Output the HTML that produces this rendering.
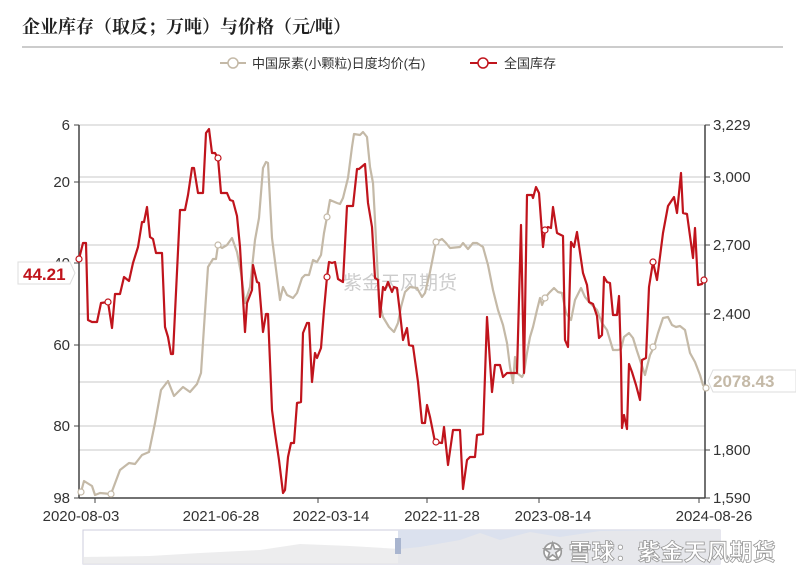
<!DOCTYPE html>
<html><head><meta charset="utf-8"><style>
body{margin:0;background:#fff;width:796px;height:575px;overflow:hidden;font-family:"Liberation Sans","Noto Sans CJK SC",sans-serif}
</style></head><body>
<svg width="796" height="575" xmlns="http://www.w3.org/2000/svg" font-family="Liberation Sans, Noto Sans CJK SC, sans-serif">
<text x="22" y="33" font-size="18" font-weight="bold" fill="#222" font-family="Liberation Serif, Noto Serif CJK SC, serif">企业库存（取反；万吨）与价格（元/吨）</text>
<line x1="22" y1="47" x2="783" y2="47" stroke="#999" stroke-width="1"/>
<line x1="220" y1="63" x2="246" y2="63" stroke="#c4b9a7" stroke-width="2"/><circle cx="233" cy="63" r="5" fill="#fff" stroke="#c4b9a7" stroke-width="1.5"/>
<text x="252" y="68" font-size="13" fill="#333">中国尿素(小颗粒)日度均价(右)</text>
<line x1="470" y1="63" x2="497" y2="63" stroke="#c0141c" stroke-width="2"/><circle cx="483" cy="63" r="5" fill="#fff" stroke="#c0141c" stroke-width="1.5"/>
<text x="504" y="68" font-size="13" fill="#333">全国库存</text>
<g stroke="#c8c8c8" stroke-width="1">
<line x1="79" y1="125" x2="705" y2="125"/><line x1="79" y1="177" x2="705" y2="177"/><line x1="79" y1="182" x2="705" y2="182"/><line x1="79" y1="245" x2="705" y2="245"/><line x1="79" y1="263" x2="705" y2="263"/><line x1="79" y1="314" x2="705" y2="314"/><line x1="79" y1="345" x2="705" y2="345"/><line x1="79" y1="382" x2="705" y2="382"/><line x1="79" y1="426" x2="705" y2="426"/><line x1="79" y1="450" x2="705" y2="450"/>
</g>
<text x="400" y="289" font-size="19" fill="#ccc" text-anchor="middle">紫金天风期货</text>
<g stroke="#444" stroke-width="1.5">
<line x1="79" y1="125" x2="79" y2="498"/><line x1="705" y1="125" x2="705" y2="498"/><line x1="79" y1="498" x2="705" y2="498"/>
</g>
<g stroke="#444" stroke-width="1">
<line x1="74" y1="125" x2="79" y2="125"/><line x1="74" y1="182" x2="79" y2="182"/><line x1="74" y1="263" x2="79" y2="263"/><line x1="74" y1="345" x2="79" y2="345"/><line x1="74" y1="426" x2="79" y2="426"/><line x1="74" y1="498" x2="79" y2="498"/>
<line x1="705" y1="125" x2="710" y2="125"/><line x1="705" y1="177" x2="710" y2="177"/><line x1="705" y1="245" x2="710" y2="245"/><line x1="705" y1="314" x2="710" y2="314"/><line x1="705" y1="450" x2="710" y2="450"/><line x1="705" y1="498" x2="710" y2="498"/>
<line x1="95" y1="498" x2="95" y2="503"/><line x1="318" y1="498" x2="318" y2="503"/><line x1="427" y1="498" x2="427" y2="503"/><line x1="539" y1="498" x2="539" y2="503"/><line x1="699" y1="498" x2="699" y2="503"/>
</g>
<g font-size="15" fill="#333" text-anchor="end">
<text x="70" y="130">6</text><text x="70" y="187">20</text><text x="70" y="268">40</text><text x="70" y="350">60</text><text x="70" y="431">80</text><text x="70" y="503">98</text>
</g>
<g font-size="15" fill="#333">
<text x="713" y="130">3,229</text><text x="713" y="182">3,000</text><text x="713" y="250">2,700</text><text x="713" y="319">2,400</text><text x="713" y="455">1,800</text><text x="713" y="503">1,590</text>
</g>
<g font-size="15" fill="#333" text-anchor="middle">
<text x="81" y="521">2020-08-03</text><text x="221" y="521">2021-06-28</text><text x="331" y="521">2022-03-14</text><text x="442" y="521">2022-11-28</text><text x="553" y="521">2023-08-14</text><text x="714" y="521">2024-08-26</text>
</g>
<polyline fill="none" stroke="#c4b9a7" stroke-width="2.2" stroke-linejoin="round" points="81,492 84,481 92,486 95,495 100,493 111,494 120,470 129,463 135,464 142,455 149,452 155,423 161,390 168,381 174,396 183,387 190,392 197,384 201,373 204,327 208,267 213,259 216,259 218,245 222,248 227,245 232,238 237,252 241,273 245,303 250,287 255,240 259,218 263,168 266,162 268,163 272,238 277,277 280,300 283,287 287,295 293,298 297,293 302,278 305,275 309,275 313,260 317,262 321,255 324,233 327,217 330,200 337,203 340,204 343,198 348,178 352,147 354,134 360,135 363,132 367,137 370,167 373,183 375,220 379,300 383,317 389,327 394,332 398,323 401,307 405,292 410,287 417,288 422,297 425,293 430,272 436,242 442,239 446,243 450,248 460,247 463,243 468,249 473,243 477,243 483,247 488,265 493,290 498,310 503,325 507,343 510,367 513,383 515,357 517,373 522,377 524,373 527,353 530,337 533,327 537,310 540,298 542,305 545,298 549,293 554,288 558,292 562,293 566,313 571,320 575,300 581,288 585,297 590,303 597,310 602,323 607,330 613,350 618,350 621,349 624,337 629,333 633,338 637,351 640,360 645,375 650,355 654,347 658,333 663,318 668,317 672,325 676,327 680,326 685,330 690,353 695,362 700,375 703,385 706,388"/>
<polyline fill="none" stroke="#c0141c" stroke-width="2.2" stroke-linejoin="round" points="79,259 83,243 86,243 88,320 92,322 97,322 101,303 108,302 112,328 115,294 120,294 124,277 129,281 133,263 138,247 142,222 144,222 147,207 150,237 153,239 156,253 162,253 165,327 168,337 171,354 173,354 180,210 185,210 188,195 192,168 194,168 198,193 203,193 206,133 209,129 212,153 215,153 218,158 221,193 227,193 230,200 233,201 237,216 240,247 245,332 247,303 252,290 253,265 257,282 259,283 263,332 266,314 268,314 272,410 275,433 279,460 283,493 285,490 288,457 291,443 294,443 297,403 301,402 303,333 307,323 309,323 312,382 315,353 317,358 321,348 324,310 327,277 329,262 332,263 335,262 338,279 343,282 347,206 353,206 357,169 359,169 365,164 368,203 372,227 375,278 378,280 380,317 383,287 385,290 388,282 392,292 394,287 397,288 400,313 403,340 407,328 409,345 413,346 418,382 422,423 425,423 427,405 430,417 435,442 442,443 444,427 448,465 453,430 460,430 463,489 467,460 470,457 475,457 477,435 483,434 487,317 492,392 495,365 500,365 503,377 507,373 517,373 521,225 524,373 527,195 532,195 533,198 536,187 539,193 543,247 545,230 548,227 551,228 553,207 557,233 563,236 565,340 568,347 571,242 574,247 577,232 583,273 587,285 589,302 593,304 597,316 599,338 602,335 604,277 607,282 610,283 613,315 617,315 619,296 621,360 622,428 624,415 627,429 629,364 632,372 636,385 640,400 642,360 646,358 649,287 653,262 657,280 663,233 668,206 674,197 677,213 681,173 683,213 687,214 693,258 695,228 698,285 702,284 704,280"/>
<g fill="#fff" stroke="#c0141c" stroke-width="1.2">
<circle cx="79" cy="259" r="3"/><circle cx="108" cy="302" r="3"/><circle cx="218" cy="158" r="3"/><circle cx="327" cy="277" r="3"/><circle cx="436" cy="442" r="3"/><circle cx="545" cy="230" r="3"/><circle cx="653" cy="262" r="3"/><circle cx="704" cy="280" r="3"/>
</g>
<g fill="#fff" stroke="#c4b9a7" stroke-width="1.2">
<circle cx="81" cy="492" r="3"/><circle cx="111" cy="494" r="3"/><circle cx="218" cy="245" r="3"/><circle cx="327" cy="217" r="3"/><circle cx="436" cy="242" r="3"/><circle cx="545" cy="298" r="3"/><circle cx="653" cy="347" r="3"/><circle cx="706" cy="388" r="3"/>
</g>
<path d="M18,262 H70 L75,273 L70,284 H18 Z" fill="#fff" stroke="#ddd"/>
<text x="23" y="280" font-size="17" font-weight="bold" fill="#c0141c">44.21</text>
<path d="M713,370 H796 V392 H713 L708,381 Z" fill="#fff" stroke="#ddd"/>
<text x="713" y="387" font-size="17" font-weight="bold" fill="#c4b9a7">2078.43</text>
<rect x="83" y="530" width="637" height="34" fill="#fff" stroke="#ccd"/>
<rect x="398" y="530" width="322" height="34" fill="#dbe1ee"/>
<path d="M83,557 L150,556 L200,553 L260,550 L300,544 L350,546 L400,549 L420,547 L460,540 L480,533 L500,540 L530,532 L560,537 L600,531 L700,530 L720,530 L720,564 L83,564Z" fill="#e8e8ea" opacity="0.8"/>
<rect x="395" y="538" width="6" height="16" fill="#a9b5cf"/>
<text x="543" y="560" font-size="23" font-weight="bold" fill="#fff" stroke="#999" stroke-width="0.8">✪ 雪球：紫金天风期货</text>
</svg>
</body></html>
